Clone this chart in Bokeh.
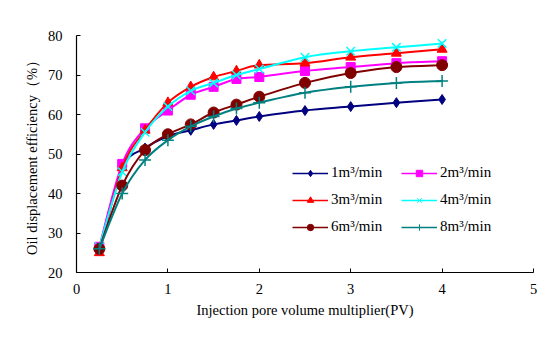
from bokeh.plotting import figure
from bokeh.models import Legend, LegendItem, SingleIntervalTicker
from bokeh.embed import file_html
from bokeh.resources import INLINE

pv = [0.25, 0.5, 0.75, 1.0, 1.25, 1.5, 1.75, 2.0, 2.5, 3.0, 3.5, 4.0]
s1 = [26.0, 46.5, 51.5, 54.5, 56.0, 57.5, 58.5, 59.5, 61.0, 62.0, 63.0, 63.8]
s2 = [26.5, 47.5, 56.5, 61.0, 65.0, 67.0, 69.0, 69.5, 71.0, 72.0, 73.0, 73.5]
s3 = [25.0, 46.5, 56.0, 63.0, 67.0, 69.5, 71.0, 72.5, 73.0, 74.5, 75.5, 76.5]
s4 = [26.5, 45.5, 55.5, 62.0, 66.0, 68.0, 70.0, 71.5, 74.5, 76.0, 77.0, 78.0]
s6 = [26.0, 42.0, 51.0, 55.0, 57.5, 60.5, 62.5, 64.5, 68.0, 70.5, 72.0, 72.5]
s8 = [26.0, 40.0, 48.5, 53.5, 57.0, 59.5, 61.5, 63.0, 65.5, 67.0, 68.0, 68.5]
labels = ["1m³/min", "2m³/min", "3m³/min", "4m³/min", "6m³/min", "8m³/min"]

series = [s1, s2, s3, s4, s6, s8]
colors = ["#000080", "#FF00FF", "#FF0000", "#00FFFF", "#800000", "#008080"]
markers = ["diamond", "square", "triangle", "x", "circle", "cross"]
sizes = [10, 9, 10, 10, 11, 10]

FONT = "Liberation Serif"

p = figure(width=554, height=344, x_range=(0, 5), y_range=(20, 80),
           output_backend="svg", toolbar_location=None,
           min_border_left=76, min_border_right=21, min_border_top=35, min_border_bottom=72)
p.outline_line_color = None
p.xgrid.visible = False
p.ygrid.visible = False

for ax in (p.xaxis, p.yaxis):
    ax.axis_line_color = "black"
    ax.axis_line_width = 1.2
    ax.major_tick_in = 4
    ax.major_tick_out = 0
    ax.minor_tick_line_color = None
    ax.major_label_text_font = FONT
    ax.major_label_text_font_size = "14.5px"
    ax.major_label_text_color = "black"
    ax.axis_label_text_font = FONT
    ax.axis_label_text_font_style = "normal"
    ax.axis_label_text_font_size = "14.5px"
    ax.axis_label_text_color = "black"

p.xaxis.ticker = SingleIntervalTicker(interval=1)
p.yaxis.ticker = SingleIntervalTicker(interval=10)
p.xaxis.axis_label = "Injection pore volume multiplier(PV)"
p.yaxis.axis_label = "Oil displacement efficiency（%）"
p.xaxis.major_label_standoff = 7
p.xaxis.axis_label_standoff = 5
p.yaxis.major_label_standoff = 10
p.yaxis.axis_label_standoff = 5


def smooth(xs, ys):
    x0, y0, x1, y1, cx0, cy0, cx1, cy1 = [], [], [], [], [], [], [], []
    n = len(xs)
    for i in range(n - 1):
        pxm = xs[i - 1] if i > 0 else xs[i]
        pym = ys[i - 1] if i > 0 else ys[i]
        pxp = xs[i + 2] if i + 2 < n else xs[i + 1]
        pyp = ys[i + 2] if i + 2 < n else ys[i + 1]
        x0.append(xs[i]); y0.append(ys[i])
        x1.append(xs[i + 1]); y1.append(ys[i + 1])
        cx0.append(xs[i] + (xs[i + 1] - pxm) / 6)
        cy0.append(ys[i] + (ys[i + 1] - pym) / 6)
        cx1.append(xs[i + 1] - (pxp - xs[i]) / 6)
        cy1.append(ys[i + 1] - (pyp - ys[i]) / 6)
    return dict(x0=x0, y0=y0, x1=x1, y1=y1, cx0=cx0, cy0=cy0, cx1=cx1, cy1=cy1)


nan = float("nan")
items = []
for ys, c, m, sz, lab in zip(series, colors, markers, sizes, labels):
    d = smooth(pv, ys)
    p.bezier(x0=d["x0"], y0=d["y0"], x1=d["x1"], y1=d["y1"],
             cx0=d["cx0"], cy0=d["cy0"], cx1=d["cx1"], cy1=d["cy1"],
             line_color=c, line_width=2)
    lr = p.line([nan, nan], [nan, nan], line_color=c, line_width=1.5)
    if m in ("x", "cross"):
        p.scatter(pv, ys, marker=m, size=sz + 2, line_color=c, line_width=1.5)
        lm = p.scatter([nan], [nan], marker=m, size=7, line_color=c, line_width=1)
    else:
        p.scatter(pv, ys, marker=m, size=sz, line_color=c, fill_color=c)
        lm = p.scatter([nan], [nan], marker=m, size=8, line_color=c, fill_color=c)
    items.append(LegendItem(label=lab, renderers=[lr, lm]))

# column-major fill: reorder so rows read 1 2 / 3 4 / 6 8
ordered = [items[0], items[2], items[4], items[1], items[3], items[5]]

legend = Legend(items=ordered, ncols=2, location=(216, 37),
                label_text_font=FONT, label_text_font_size="15px",
                label_text_color="black", glyph_width=36, glyph_height=16,
                spacing=10, padding=4, label_standoff=3, label_width=60, margin=0,
                background_fill_alpha=0, border_line_color=None)
p.add_layout(legend)

open("out.html", "w").write(file_html(p, INLINE))
